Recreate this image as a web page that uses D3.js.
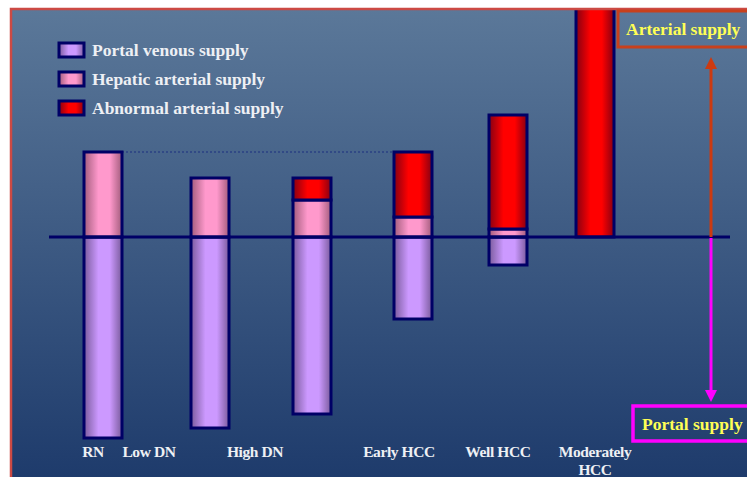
<!DOCTYPE html>
<meta charset="utf-8">
<script src="https://d3js.org/d3.v7.min.js"></script>
<style>
  body { margin: 0; background: #fff; }
</style>
<div id="chart"></div>
<script>

    // supply per lesion stage, arterial up, portal down
    var categories = ["RN", "Low DN", "High DN", "Early HCC", "Well HCC", "Moderately HCC"];
    var portalVenous = [100.5, 95.5, 88.5, 41, 14, 0];
    var hepaticArterial = [42.5, 29.5, 18.5, 10, 4, 0];
    var abnormalArterial = [0, 0, 11, 32.5, 57, 124];
    var tickLabels = [["RN"], ["Low DN"], ["High DN"], ["Early HCC"], ["Well HCC"], ["Moderately", "HCC"]];
    var seriesNames = ["Portal venous supply", "Hepatic arterial supply", "Abnormal arterial supply"];

    var width = 747, height = 477;

    var svg = d3.select("#chart")
      .append("svg")
        .attr("width", width)
        .attr("height", height)
        .style("display", "block");

    var defs = svg.append("defs");

    var bg = defs.append("linearGradient")
        .attr("id", "bg").attr("x1", 0).attr("y1", 0).attr("x2", 0).attr("y2", 1);
    bg.append("stop").attr("offset", "0%").attr("stop-color", "#5b7899");
    bg.append("stop").attr("offset", "100%").attr("stop-color", "#1d3a6b");

    defs.append("clipPath").attr("id", "slide")
      .append("rect").attr("x", 12).attr("y", 10).attr("width", width).attr("height", height);

    // cylinder-like shading for each series
    var fills = [
      {id: "gPortal", edge: "#7a5b9c", mid: "#cc99ff"},
      {id: "gHepatic", edge: "#a25c7c", mid: "#ff99cc"},
      {id: "gAbnormal", edge: "#850012", mid: "#ff0000"}
    ];
    fills.forEach(function(f) {
      var g = defs.append("linearGradient").attr("id", f.id)
          .attr("x1", 0).attr("y1", 0).attr("x2", 1).attr("y2", 0);
      g.append("stop").attr("offset", "0%").attr("stop-color", f.edge);
      g.append("stop").attr("offset", "38%").attr("stop-color", f.mid);
      g.append("stop").attr("offset", "68%").attr("stop-color", f.mid);
      g.append("stop").attr("offset", "100%").attr("stop-color", f.edge);
    });

    // slide background
    svg.append("rect")
        .attr("x", 11).attr("y", 9)
        .attr("width", width).attr("height", height)
        .attr("fill", "url(#bg)");

    var x = d3.scaleOrdinal()
        .domain(categories)
        .range([103, 210, 312, 413, 508, 595]);
    var xLabel = d3.scaleOrdinal()
        .domain(categories)
        .range([93, 149, 255, 399, 498, 595]);
    var barW = 38;

    var y = d3.scaleLinear()
        .domain([0, 100])
        .range([237, 37]);

    var data = categories.map(function(c, i) {
      return {cat: c, portal: portalVenous[i], hepatic: hepaticArterial[i], abnormal: abnormalArterial[i]};
    });

    var segs = [];
    data.forEach(function(d) {
      if (d.portal > 0) segs.push({cat: d.cat, y0: -d.portal, y1: 0, fill: "url(#gPortal)"});
      if (d.hepatic > 0) segs.push({cat: d.cat, y0: 0, y1: d.hepatic, fill: "url(#gHepatic)"});
      if (d.abnormal > 0) segs.push({cat: d.cat, y0: d.hepatic, y1: d.hepatic + d.abnormal, fill: "url(#gAbnormal)"});
    });

    // dotted reference line at RN arterial level
    svg.append("line")
        .attr("x1", x("RN") + barW / 2).attr("x2", x("Early HCC") - barW / 2)
        .attr("y1", y(hepaticArterial[0])).attr("y2", y(hepaticArterial[0]))
        .attr("stroke", "#1a2f80")
        .attr("stroke-width", 1.2)
        .attr("stroke-dasharray", "2,2");

    svg.append("g")
        .attr("clip-path", "url(#slide)")
      .selectAll("rect")
      .data(segs)
      .enter()
      .append("rect")
        .attr("x", function(d) { return x(d.cat) - barW / 2; })
        .attr("y", function(d) { return y(d.y1); })
        .attr("width", barW)
        .attr("height", function(d) { return y(d.y0) - y(d.y1); })
        .attr("fill", function(d) { return d.fill; })
        .attr("stroke", "#000066")
        .attr("stroke-width", 3);

    // slide border on top of bars
    svg.append("path")
        .attr("d", "M11," + height + "V9H" + width)
        .attr("fill", "none")
        .attr("stroke", "#cc4a44")
        .attr("stroke-width", 2.5);

    // zero line
    svg.append("line")
        .attr("x1", 49).attr("x2", 730)
        .attr("y1", y(0)).attr("y2", y(0))
        .attr("stroke", "#000066")
        .attr("stroke-width", 3);

    // category labels
    var labels = svg.append("g")
        .attr("font-family", "Liberation Serif, serif")
        .attr("font-weight", "bold")
        .attr("font-size", 15.5)
        .attr("fill", "#eef0f4")
        .attr("text-anchor", "middle");
    categories.forEach(function(c, i) {
      tickLabels[i].forEach(function(t, j) {
        labels.append("text")
            .attr("x", xLabel(c))
            .attr("y", 457 + j * 18)
            .attr("letter-spacing", -0.4)
            .text(t);
      });
    });

    // legend
    var legend = svg.append("g");
    seriesNames.forEach(function(s, i) {
      var gy = 43 + i * 29;
      legend.append("rect")
          .attr("x", 59).attr("y", gy)
          .attr("width", 25).attr("height", 14)
          .attr("fill", "url(#" + fills[i].id + ")")
          .attr("stroke", "#000066")
          .attr("stroke-width", 3);
      legend.append("text")
          .attr("x", 92).attr("y", gy + 13)
          .attr("font-family", "Liberation Serif, serif")
          .attr("font-weight", "bold")
          .attr("font-size", 17.5)
          .attr("fill", "#eef0f4")
          .text(s);
    });

    // supply direction arrows
    defs.append("marker").attr("id", "headUp")
        .attr("viewBox", "0 0 10 10").attr("refX", 5).attr("refY", 5)
        .attr("markerWidth", 4).attr("markerHeight", 4).attr("orient", "auto")
      .append("path").attr("d", "M0,0L10,5L0,10Z").attr("fill", "#cc3a10");
    defs.append("marker").attr("id", "headDown")
        .attr("viewBox", "0 0 10 10").attr("refX", 5).attr("refY", 5)
        .attr("markerWidth", 4).attr("markerHeight", 4).attr("orient", "auto")
      .append("path").attr("d", "M0,0L10,5L0,10Z").attr("fill", "#ff00ff");

    svg.append("line")
        .attr("x1", 711).attr("x2", 711)
        .attr("y1", y(0)).attr("y2", 63)
        .attr("stroke", "#cc3a10").attr("stroke-width", 3)
        .attr("marker-end", "url(#headUp)");
    svg.append("line")
        .attr("x1", 711).attr("x2", 711)
        .attr("y1", y(0) + 1).attr("y2", 396)
        .attr("stroke", "#ff00ff").attr("stroke-width", 3)
        .attr("marker-end", "url(#headDown)");

    svg.append("rect")
        .attr("x", 618).attr("y", 11)
        .attr("width", 140).attr("height", 36)
        .attr("fill", "none")
        .attr("stroke", "#c8401c").attr("stroke-width", 3);
    svg.append("text")
        .attr("x", 626).attr("y", 35)
        .attr("font-family", "Liberation Serif, serif")
        .attr("font-weight", "bold")
        .attr("font-size", 17.5)
        .attr("fill", "#ffff55")
        .text("Arterial supply");

    svg.append("rect")
        .attr("x", 633).attr("y", 406)
        .attr("width", 130).attr("height", 35)
        .attr("fill", "none")
        .attr("stroke", "#ff00ff").attr("stroke-width", 3.5);
    svg.append("text")
        .attr("x", 642).attr("y", 430)
        .attr("font-family", "Liberation Serif, serif")
        .attr("font-weight", "bold")
        .attr("font-size", 17.5)
        .attr("fill", "#ffff55")
        .text("Portal supply");

</script>
